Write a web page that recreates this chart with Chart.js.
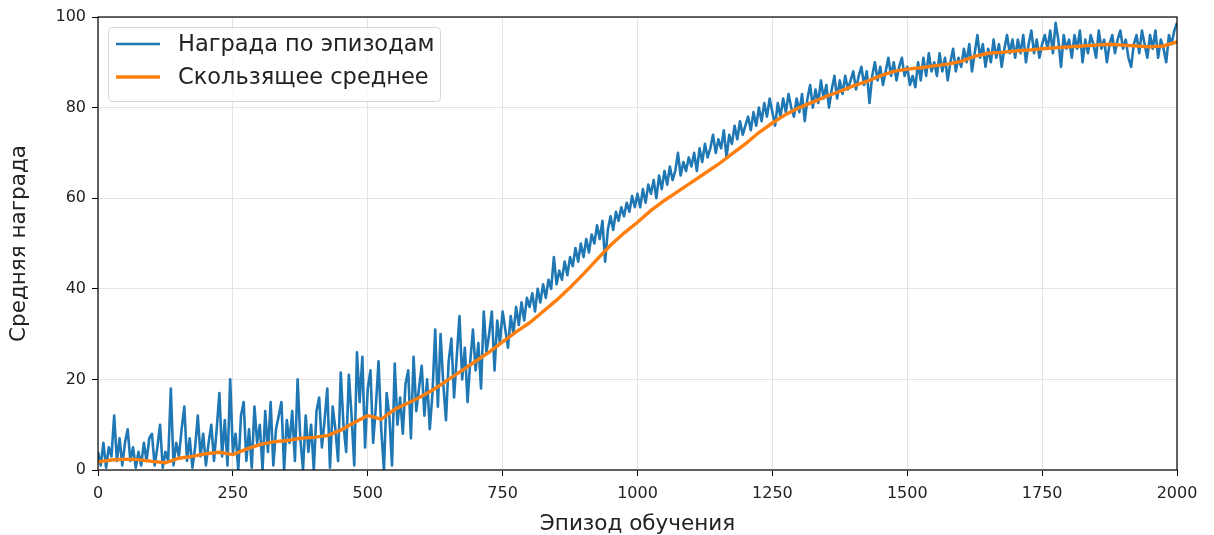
<!DOCTYPE html>
<html>
<head>
<meta charset="utf-8">
<title>Награда по эпизодам</title>
<script src="https://cdn.jsdelivr.net/npm/chart.js@4.4.1/dist/chart.umd.min.js"></script>
<style>
  html, body { margin: 0; padding: 0; background: #fff; }
  #wrap { width: 1214px; height: 535px; }
</style>
</head>
<body>
<div id="wrap"><canvas id="rewardChart" width="1214" height="535"></canvas></div>
<script>
// reward per episode, read every 5 episodes (0 .. 2000)
const rewardStep = 5;
const rewardValues = [
    4, 1, 6, 0.5, 5, 3, 12, 2, 7, 1, 6, 9, 2, 5, 0.5, 4, 1, 6, 2, 7,
    8, 1, 5, 10, 0.5, 4, 2, 18, 1, 6, 3, 9, 14, 2, 7, 0.5, 5, 12, 3, 8,
    1, 6, 10, 2, 9, 17, 3, 11, 1, 20, 4, 8, 0, 12, 15, 2, 9, 0.5, 14, 6,
    10, 0, 13, 4, 15, 1, 9, 12, 15, 0, 11, 6, 13, 2, 20, 7, 0, 12, 4, 10,
    0, 13, 16, 5, 11, 18, 0.5, 14, 9, 2, 21.5, 10, 4, 21, 12, 1, 26, 15, 25, 5,
    18, 22, 6, 14, 24, 9, 0, 17, 12, 1, 23.5, 10, 16, 8, 19, 22, 7, 25, 13, 18,
    23, 12, 20, 9, 17, 31, 14, 30, 19, 11, 24, 29, 16, 25, 34, 20, 27, 15, 24, 31,
    22, 28, 18, 35, 26, 30, 35, 22, 33, 28, 35, 31, 27, 34, 30, 36, 32, 37, 33, 38,
    36, 39, 35, 40, 37, 41, 38, 42, 40, 47, 41, 44, 42, 46, 43, 47, 45, 49, 46, 50,
    47, 51, 48, 52, 50, 54, 51, 55, 46, 53, 56, 53, 57, 55, 58, 56, 59, 57, 60.5, 58,
    61, 58, 62, 59, 63, 61, 64, 60, 65, 62, 66, 63, 67, 64, 66, 70, 65, 68, 66, 69,
    67, 70, 66, 71, 68, 72, 69, 71, 74, 70, 73, 71, 75, 69, 74, 72, 76, 73, 77, 74,
    76, 78, 75, 79, 76, 80, 77, 81, 78, 82, 79, 76, 81, 78, 82, 79, 83, 80, 78, 82,
    79, 83, 77, 82, 85, 80, 84, 81, 86, 82, 85, 80, 84, 87, 82, 86, 83, 87, 84, 86,
    88, 84, 87, 89, 85, 88, 81, 87, 90, 86, 89, 85, 88, 91, 87, 90, 86, 89, 91, 87,
    89, 85, 87, 84.5, 90, 86, 91, 87, 92, 88, 90, 87, 92, 88, 91, 86, 90, 93, 88, 91,
    89, 93, 90, 94, 88, 92, 96, 91, 94, 89, 93, 90, 95, 91, 94, 89, 93, 96, 92, 95,
    91, 95, 92, 96, 90, 94, 97, 92, 95, 91, 94, 96, 93, 97, 92, 98.7, 95, 89, 96, 93,
    95, 91, 96, 93, 97, 90, 95, 92, 96, 94, 91, 97, 93, 95, 90, 94, 96, 92, 95, 97,
    93, 95, 91, 89, 94, 96, 92, 97, 94, 91, 96, 93, 97, 91, 95, 93, 90, 96, 94, 97,
    98.7
];

// moving average, read every 25 episodes
const avgStep = 25;
const avgValues = [
    1.8, 2.2, 2.4, 2.3, 1.9, 1.6, 2.6, 3.0, 3.6, 3.9,
    3.4, 4.6, 5.6, 6.2, 6.5, 7.0, 7.2, 7.6, 8.8, 10.5,
    12.0, 11.2, 13.4, 14.8, 16.3, 18.0, 20.0, 22.0, 24.0, 26.0,
    28.3, 30.5, 32.5, 35.0, 37.5, 40.3, 43.3, 46.5, 49.6, 52.3,
    54.7, 57.3, 59.5, 61.5, 63.5, 65.5, 67.5, 69.8, 72.0, 74.5,
    76.6, 78.5, 80.0, 81.2, 82.5, 83.6, 84.8, 85.8, 87.0, 88.0,
    88.5, 88.8, 89.2, 89.6, 90.2, 91.3, 92.0, 92.2, 92.5, 92.7,
    93.0, 93.2, 93.4, 93.6, 93.8, 94.0, 93.8, 93.6, 93.4, 93.6,
    94.5
];

const seriesLabels = ['Награда по эпизодам', 'Скользящее среднее'];
const seriesColors = ['#1f77b4', '#ff7f0e'];
const xTicks = [0, 250, 500, 750, 1000, 1250, 1500, 1750, 2000];
const yTicks = [0, 20, 40, 60, 80, 100];
const xTitle = 'Эпизод обучения';
const yTitle = 'Средняя награда';

const rewardPoints = rewardValues.map((v, i) => ({ x: i * rewardStep, y: v }));
const avgPoints = avgValues.map((v, i) => ({ x: i * avgStep, y: v }));

const fontFamily = '"DejaVu Sans", sans-serif';

// frame around the plot area + matplotlib-like legend box
const framePlugin = {
    id: 'frame',
    afterDatasetsDraw(chart) {
        const { ctx, chartArea: a } = chart;
        ctx.save();
        ctx.strokeStyle = '#000';
        ctx.lineWidth = 1.2;
        ctx.strokeRect(a.left, a.top, a.right - a.left, a.bottom - a.top);
        ctx.restore();
    },
    afterDraw(chart) {
        const { ctx } = chart;
        const bx = 108, by = 27, bw = 332, bh = 74;
        ctx.save();
        ctx.beginPath();
        ctx.roundRect(bx + 0.5, by + 0.5, bw, bh, 4);
        ctx.fillStyle = 'rgba(255,255,255,0.8)';
        ctx.fill();
        ctx.strokeStyle = '#d5d5d5';
        ctx.lineWidth = 1;
        ctx.stroke();
        const rows = [44, 77];
        const widths = [2.6, 3.4];
        seriesLabels.forEach((label, i) => {
            ctx.beginPath();
            ctx.moveTo(116, rows[i]);
            ctx.lineTo(160, rows[i]);
            ctx.strokeStyle = seriesColors[i];
            ctx.lineWidth = widths[i];
            ctx.stroke();
            ctx.fillStyle = '#222';
            ctx.font = '22.5px ' + fontFamily;
            ctx.textBaseline = 'middle';
            ctx.fillText(label, 178, rows[i] + 1);
        });
        ctx.restore();
    }
};

new Chart(document.getElementById('rewardChart').getContext('2d'), {
    type: 'line',
    data: {
        datasets: [{
            label: seriesLabels[0],
            data: rewardPoints,
            borderColor: seriesColors[0],
            borderWidth: 2.6,
            borderJoinStyle: 'round',
            pointRadius: 0,
            tension: 0,
            order: 2
        }, {
            label: seriesLabels[1],
            data: avgPoints,
            borderColor: seriesColors[1],
            borderWidth: 3.4,
            pointRadius: 0,
            tension: 0,
            order: 1
        }]
    },
    options: {
        responsive: false,
        animation: false,
        layout: { padding: { left: 0, right: 37, top: 17, bottom: 0 } },
        plugins: {
            legend: { display: false },
            tooltip: { enabled: false }
        },
        scales: {
            x: {
                type: 'linear',
                min: 0,
                max: 2000,
                afterBuildTicks: scale => { scale.ticks = xTicks.map(v => ({ value: v })); },
                afterFit: scale => { scale.height = 65; },
                grid: { color: '#e4e4e4', tickColor: '#000', tickLength: 6, lineWidth: 1 },
                border: { display: false },
                ticks: {
                    color: '#222',
                    padding: 8,
                    maxRotation: 0,
                    callback: v => String(v),
                    font: { family: fontFamily, size: 16 }
                },
                title: {
                    display: true,
                    text: xTitle,
                    color: '#222',
                    padding: { top: 0, bottom: 0 },
                    font: { family: fontFamily, size: 21.5, lineHeight: 1 }
                }
            },
            y: {
                min: 0,
                max: 100,
                afterBuildTicks: scale => { scale.ticks = yTicks.map(v => ({ value: v })); },
                afterFit: scale => { scale.width = 98; },
                grid: { color: '#e4e4e4', tickColor: '#000', tickLength: 6, lineWidth: 1 },
                border: { display: false },
                ticks: {
                    color: '#222',
                    padding: 6,
                    callback: v => String(v),
                    font: { family: fontFamily, size: 16 }
                },
                title: {
                    display: true,
                    text: yTitle,
                    color: '#222',
                    padding: { top: 7, bottom: 0 },
                    font: { family: fontFamily, size: 21.5, lineHeight: 1.2 }
                }
            }
        }
    },
    plugins: [framePlugin]
});
</script>
</body>
</html>
